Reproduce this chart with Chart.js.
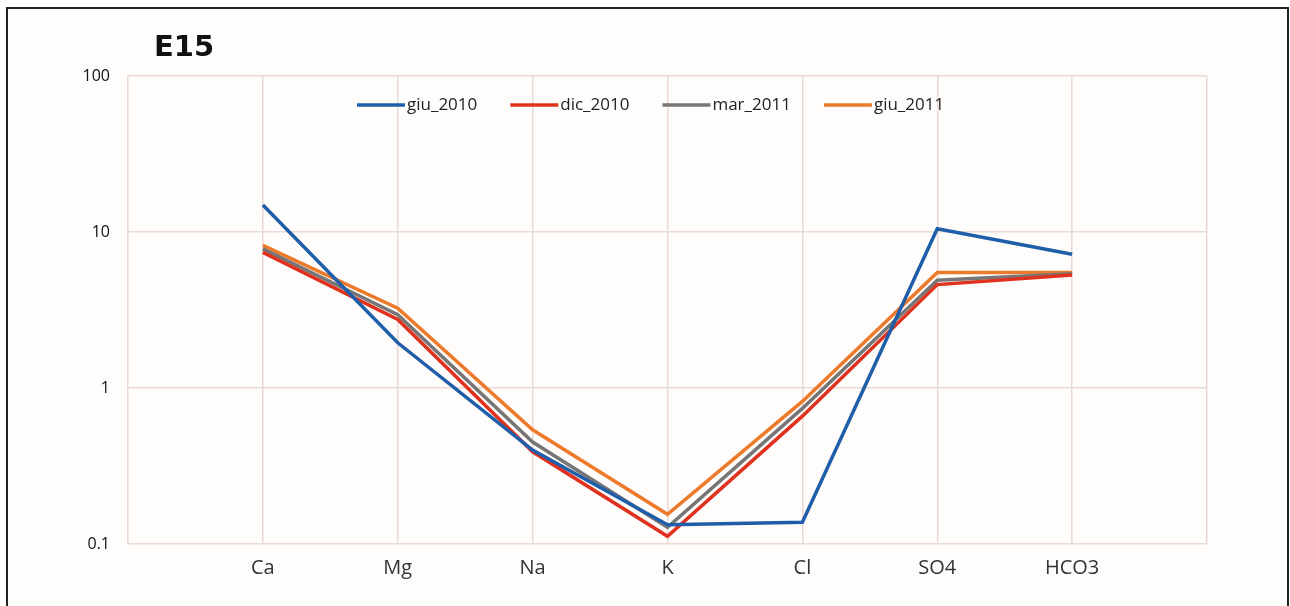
<!DOCTYPE html>
<html>
<head>
<meta charset="utf-8">
<script src="https://cdn.jsdelivr.net/npm/chart.js@4"></script>
<style>
    body { margin: 0; background: #ffffff; }
    #wrap { position: relative; width: 1290px; height: 606px; overflow: hidden; }
    #frame { position: absolute; left: 6px; top: 7px; width: 1279px; height: 640px; border: 2px solid #222; background: #fffdfb; }
    #chartCanvas { position: absolute; left: 0; top: 0; }
</style>
</head>
<body>
<div id="wrap">
    <div id="frame"></div>
    <canvas id="chartCanvas" width="1290" height="606"></canvas>
</div>
<script>
// categories (empty slots at both ends give the grid its side columns)
const ions = ["", "Ca", "Mg", "Na", "K", "Cl", "SO4", "HCO3", ""];
const yTicks = [0.1, 1, 10, 100];

const giu2010 = [null, 14.9, 1.95, 0.40, 0.133, 0.138, 10.5, 7.2, null];
const dic2010 = [null, 7.4, 2.75, 0.39, 0.112, 0.66, 4.6, 5.3, null];
const mar2011 = [null, 7.8, 2.95, 0.45, 0.128, 0.74, 4.9, 5.4, null];
const giu2011 = [null, 8.2, 3.25, 0.54, 0.155, 0.82, 5.5, 5.5, null];

document.addEventListener("DOMContentLoaded", function () {
    const ctx = document.getElementById("chartCanvas").getContext("2d");

    const titlePlugin = {
        id: "boxTitle",
        afterDraw(chart) {
            const c = chart.ctx;
            c.save();
            c.font = "bold 29px 'DejaVu Sans', sans-serif";
            c.fillStyle = "#111";
            c.textBaseline = "middle";
            c.fillText("E15", 154, 48);
            c.restore();
        }
    };

    // legend drawn inside the plot, one row, like the original
    const innerLegend = {
        id: "innerLegend",
        afterDatasetsDraw(chart) {
            const c = chart.ctx;
            let x = 357;
            const y = 105;
            c.save();
            c.font = "17px 'Open Sans', sans-serif";
            c.textBaseline = "middle";
            chart.data.datasets.forEach(ds => {
                c.strokeStyle = ds.borderColor;
                c.lineWidth = 3.5;
                c.beginPath();
                c.moveTo(x, y);
                c.lineTo(x + 48, y);
                c.stroke();
                c.fillStyle = "#222";
                c.fillText(ds.label, x + 50, y);
                x += 50 + c.measureText(ds.label).width + 33;
            });
            c.restore();
        }
    };

    function series(label, data, color) {
        return {
            label: label,
            data: data,
            borderColor: color,
            backgroundColor: color,
            borderWidth: 3.5,
            pointRadius: 0,
            tension: 0,
            spanGaps: false
        };
    }

    new Chart(ctx, {
        type: "line",
        data: {
            labels: ions,
            datasets: [
                series("giu_2010", giu2010, "#1f5ea8"),
                series("dic_2010", dic2010, "#e0301e"),
                series("mar_2011", mar2011, "#767676"),
                series("giu_2011", giu2011, "#ec7a2a")
            ]
        },
        options: {
            responsive: false,
            animation: false,
            layout: { padding: { left: 0, right: 83, top: 76, bottom: 0 } },
            plugins: {
                tooltip: { enabled: false },
                legend: { display: false }
            },
            scales: {
                x: {
                    type: "category",
                    offset: false,
                    grid: { color: "#ead9d4", lineWidth: 1.5, drawTicks: false },
                    border: { display: false },
                    ticks: {
                        padding: 12,
                        autoSkip: false,
                        maxRotation: 0,
                        color: "#333",
                        font: { family: "'Open Sans', sans-serif", size: 20 }
                    },
                    afterFit: function (scale) { scale.height = 62; }
                },
                y: {
                    type: "logarithmic",
                    min: 0.1,
                    max: 100,
                    grid: { color: "#ead9d4", lineWidth: 1.5, drawTicks: false },
                    border: { display: false },
                    afterBuildTicks: function (scale) {
                        scale.ticks = yTicks.map(v => ({ value: v }));
                    },
                    ticks: {
                        padding: 18,
                        color: "#111",
                        font: { family: "'Open Sans', sans-serif", size: 16 },
                        callback: function (v) { return String(v); }
                    },
                    afterFit: function (scale) { scale.width = 128; }
                }
            }
        },
        plugins: [titlePlugin, innerLegend]
    });
});
</script>
</body>
</html>
